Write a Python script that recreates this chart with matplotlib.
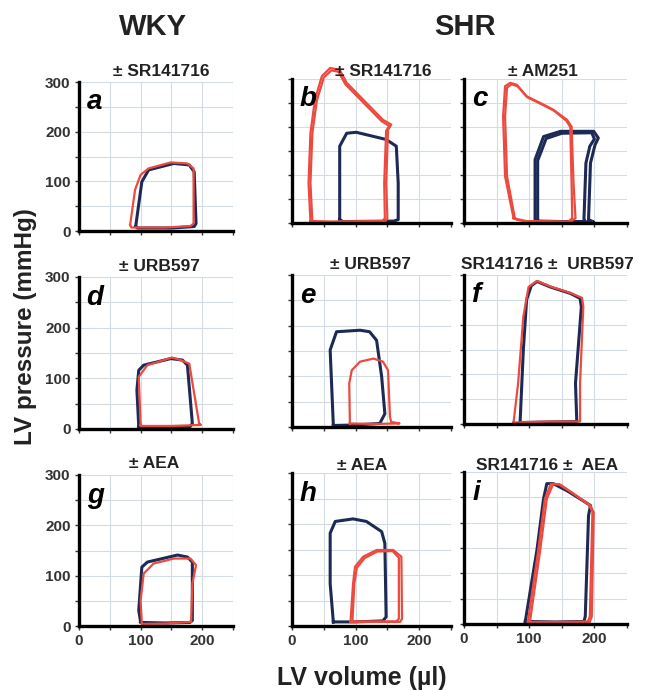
import matplotlib.pyplot as plt

W, H = 647, 690
NAVY = "#1c2a55"
RED = "#ec4a3f"

# === PV loops (volume ul, pressure mmHg) ===
a_navy = [(92, 9), (102, 99), (113, 123), (154, 136), (179, 133), (187, 119), (190, 15), (187, 9), (150, 6), (95, 6)]
a_red = [(83, 12), (91, 83), (100, 113), (113, 126), (149, 138), (176, 136), (186, 126), (186, 15), (181, 10), (140, 7), (85, 7)]

b_navy = [(75, 7), (75, 160), (86, 187), (101, 189), (148, 174), (164, 160), (167, 83), (167, 7), (160, 4), (80, 3)]
b_red = [(29, 4), (26, 83), (29, 187), (36, 257), (47, 306), (60, 323), (75, 319), (86, 292), (143, 215), (156, 205), (151, 194), (148, 83), (150, 10), (146, 3), (60, 2), (30, 3)]
b_red2 = [(32, 4), (29, 83), (32, 187), (39, 255), (50, 303), (62, 318), (73, 315), (84, 289), (141, 212), (153, 202), (148, 192), (145, 83), (146, 10), (142, 4), (60, 3), (33, 4)]

c_navy = [(109, 3), (109, 132), (122, 180), (148, 191), (199, 191), (206, 177), (201, 163), (194, 125), (191, 7), (199, 2), (150, 2), (110, 3)]
c_navy2 = [(113, 4), (113, 130), (126, 176), (150, 187), (196, 188), (200, 175), (193, 160), (187, 125), (184, 8), (186, 3), (150, 3), (114, 4)]
c_red = [(76, 10), (63, 97), (60, 222), (63, 285), (71, 292), (81, 288), (96, 264), (117, 250), (137, 236), (158, 215), (165, 201), (168, 83), (171, 10), (163, 2), (96, 3), (81, 7)]
c_red2 = [(78, 10), (66, 97), (63, 222), (66, 282), (73, 289), (82, 285), (97, 262), (118, 248), (138, 234), (157, 213), (163, 200), (165, 83), (166, 10), (160, 3), (96, 4), (82, 8)]

d_navy = [(97, 5), (94, 77), (97, 116), (105, 126), (149, 139), (168, 136), (176, 126), (184, 11), (180, 4), (100, 3)]
d_red = [(100, 8), (97, 103), (111, 126), (151, 141), (165, 136), (179, 129), (195, 11), (198, 8), (150, 6), (100, 6)]

e_navy = [(65, 3), (60, 152), (70, 188), (107, 191), (122, 188), (133, 171), (141, 99), (146, 26), (138, 7), (100, 4), (66, 3)]
e_red = [(91, 7), (90, 86), (94, 112), (107, 129), (128, 135), (143, 129), (151, 112), (154, 20), (156, 10), (169, 7), (130, 6), (92, 7)]

f_navy = [(86, 3), (91, 149), (96, 250), (103, 278), (112, 287), (132, 276), (163, 263), (178, 253), (180, 236), (171, 82), (173, 5), (130, 4), (87, 3)]
f_red = [(76, 3), (83, 82), (91, 216), (99, 276), (112, 288), (132, 277), (163, 264), (181, 254), (183, 236), (178, 82), (178, 5), (130, 5), (77, 3)]

g_navy = [(100, 8), (97, 31), (102, 117), (111, 127), (160, 141), (176, 137), (184, 127), (184, 11), (180, 7), (140, 6), (101, 7)]
g_red = [(102, 5), (100, 51), (105, 104), (121, 124), (154, 134), (181, 134), (190, 121), (184, 84), (182, 8), (140, 5), (103, 4)]

h_navy = [(65, 8), (60, 83), (60, 182), (68, 205), (96, 210), (117, 205), (141, 185), (146, 162), (148, 18), (143, 10), (100, 8), (66, 8)]
h_red = [(92, 8), (96, 83), (99, 116), (112, 136), (133, 149), (159, 149), (172, 136), (173, 14), (170, 8), (130, 8), (93, 8)]
h_red2 = [(95, 9), (98, 83), (102, 114), (114, 133), (134, 146), (158, 147), (168, 134), (168, 14), (164, 9), (130, 9), (96, 9)]

i_navy = [(94, 5), (112, 147), (122, 247), (127, 277), (137, 277), (158, 263), (178, 247), (194, 234), (191, 214), (186, 15), (184, 5), (140, 4), (95, 5)]
i_red = [(101, 3), (117, 147), (127, 247), (137, 277), (148, 275), (168, 257), (194, 234), (199, 220), (196, 15), (193, 4), (150, 3), (102, 3)]
i_red2 = [(98, 4), (114, 147), (124, 247), (133, 276), (145, 276), (166, 259), (191, 236), (197, 222), (193, 15), (190, 5), (150, 4), (99, 4)]

letters = ["a", "b", "c", "d", "e", "f", "g", "h", "i"]
titles = ["\u00b1 SR141716", "\u00b1 SR141716", "\u00b1 AM251",
          "\u00b1 URB597", "\u00b1 URB597", "SR141716 \u00b1  URB597",
          "\u00b1 AEA", "\u00b1 AEA", "SR141716 \u00b1  AEA"]
loops_navy = [[a_navy], [b_navy], [c_navy, c_navy2], [d_navy], [e_navy], [f_navy], [g_navy], [h_navy], [i_navy]]
loops_red = [[a_red], [b_red, b_red2], [c_red, c_red2], [d_red], [e_red], [f_red], [g_red], [h_red, h_red2], [i_red, i_red2]]

# axes boxes in pixels: left, top, right, bottom
boxes = [(79, 82, 233, 231), (292, 79, 451, 223), (464, 79, 627, 223),
         (79, 277, 233, 429), (292, 275, 451, 427), (464, 275, 627, 424),
         (79, 475, 233, 626), (292, 473, 451, 626), (464, 472, 627, 624)]
title_pos = [(161, 72), (383, 72), (543, 72),
             (159, 266), (370, 265), (547, 265),
             (154, 464), (362, 465), (547, 465)]

plt.rcParams["font.family"] = ["Liberation Sans", "DejaVu Sans"]
fig = plt.figure(figsize=(W / 100, H / 100), dpi=100)

for k in range(9):
    l, t, r, b = boxes[k]
    ax = fig.add_axes([l / W, 1 - b / H, (r - l) / W, (b - t) / H])
    ax.set_xlim(0, 250)
    ax.set_ylim(0, 300)
    ax.set_xticks(range(0, 251, 50))
    ax.set_yticks(range(0, 301, 50))
    ax.grid(True, color="#d3dbe3", linewidth=0.8)
    ax.set_axisbelow(True)
    for s in ["top", "right"]:
        ax.spines[s].set_visible(False)
    for s in ["left", "bottom"]:
        ax.spines[s].set_linewidth(2.4)
    ax.tick_params(length=3, width=1, direction="out", pad=3, colors="#333333")
    if k % 3 == 0:
        ax.set_yticklabels(["0", "", "100", "", "200", "", "300"], fontsize=11, fontweight="bold")
    else:
        ax.set_yticklabels([])
    if k >= 6:
        ax.set_xticklabels(["0", "", "100", "", "200", ""], fontsize=11, fontweight="bold")
    else:
        ax.set_xticklabels([])

    for loop in loops_navy[k]:
        v = [p[0] for p in loop] + [loop[0][0]]
        pr = [p[1] for p in loop] + [loop[0][1]]
        ax.plot(v, pr, color=NAVY, linewidth=2.2, clip_on=False, solid_joinstyle="round")
    for loop in loops_red[k]:
        v = [p[0] for p in loop] + [loop[0][0]]
        pr = [p[1] for p in loop] + [loop[0][1]]
        ax.plot(v, pr, color=RED, linewidth=1.6, clip_on=False, solid_joinstyle="round")

    ax.text(0.05, 0.95, letters[k], transform=ax.transAxes, fontsize=20,
            fontweight="bold", style="italic", va="top", ha="left")
    fig.text(title_pos[k][0] / W, 1 - title_pos[k][1] / H, titles[k],
             fontsize=12.5, fontweight="bold", ha="center", va="center", color="#222222")

fig.text(153 / W, 1 - 27 / H, "WKY", fontsize=21, fontweight="bold", ha="center", va="center", color="#222222")
fig.text(465 / W, 1 - 27 / H, "SHR", fontsize=21, fontweight="bold", ha="center", va="center", color="#222222")
fig.text(26 / W, 1 - 327 / H, "LV pressure (mmHg)", fontsize=17.5, fontweight="bold",
         rotation=90, ha="center", va="center", color="#222222")
fig.text(362 / W, 1 - 678 / H, "LV volume (\u00b5l)", fontsize=18, fontweight="bold",
         ha="center", va="center", color="#222222")

fig.savefig("out.png", dpi=100)
